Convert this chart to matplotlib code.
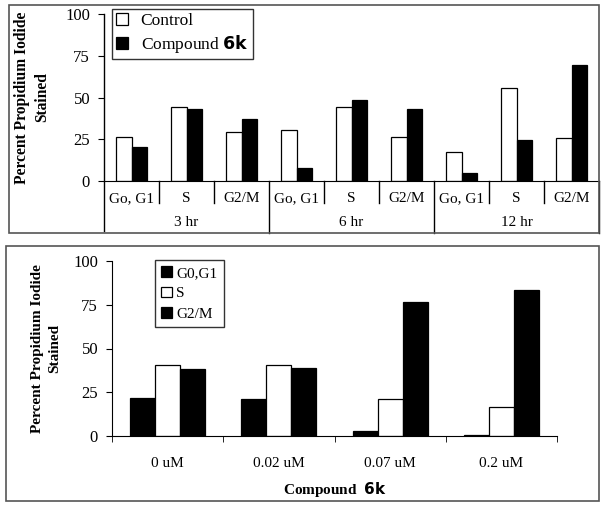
import numpy as np
import matplotlib
matplotlib.use("Agg")
from matplotlib import pyplot as plt
from matplotlib.patches import Rectangle
from matplotlib.lines import Line2D

plt.rcParams['font.family'] = ['Liberation Serif', 'DejaVu Serif']
plt.rcParams['mathtext.fontset'] = 'dejavusans'

# top panel: cell cycle phases over time
phases = ["Go, G1", "S", "G2/M"]
hours = ["3 hr", "6 hr", "12 hr"]
control = [26.5, 44.5, 29.3, 30.5, 44.1, 26.5, 17.4, 55.9, 26.0]
compound = [20.2, 42.9, 37.3, 8.0, 48.5, 42.9, 4.6, 24.7, 69.5]

# bottom panel: dose response
doses = ["0 uM", "0.02 uM", "0.07 uM", "0.2 uM"]
g0g1 = [21.7, 21.0, 3.0, 0.8]
s_phase = [40.8, 40.5, 21.0, 16.8]
g2m = [38.4, 38.9, 76.7, 83.2]

W, H = 611, 507
fig = plt.figure(figsize=(W / 100, H / 100), dpi=100)

def fbox(x0, y0, x1, y1):
    # pixel coords (top-left origin) -> figure fraction rect
    return [x0 / W, 1 - y1 / H, (x1 - x0) / W, (y1 - y0) / H]

# panel frames
for (x0, y0, x1, y1) in [(9, 5, 599, 233), (6, 246, 599, 501)]:
    fig.patches.append(Rectangle((x0 / W, 1 - y1 / H), (x1 - x0) / W, (y1 - y0) / H,
                                 transform=fig.transFigure, fill=False,
                                 edgecolor='#555555', linewidth=1.2))

TICK = 12
LAB = 11

# ---------------- top chart ----------------
ax1 = fig.add_axes(fbox(104, 14, 599, 181))
n = len(control)
x = np.arange(n) + 0.5
bw = 0.29
ax1.bar(x - bw / 2, control, bw, color='white', edgecolor='black', linewidth=0.9, label='Control')
ax1.bar(x + bw / 2, compound, bw, color='black', edgecolor='black', linewidth=0.9,
        label=r'Compound $\mathbf{6k}$')
ax1.set_xlim(0, n)
ax1.set_ylim(0, 100)
ax1.set_yticks([0, 25, 50, 75, 100])
ax1.tick_params(axis='y', direction='out', length=4, labelsize=TICK, pad=6)
ax1.set_xticks([])
for sp in ['top', 'right']:
    ax1.spines[sp].set_visible(False)
ax1.spines['left'].set_visible(False)
trans = ax1.get_xaxis_transform()
axh = 167.0
# left axis line, extended under the labels
ax1.add_line(Line2D([0, 0], [1, -50 / axh], transform=trans, color='black', lw=1, clip_on=False))
for b in range(1, n + 1):
    low = -52 / axh if b % 3 == 0 else -22 / axh
    ax1.add_line(Line2D([b, b], [0, low], transform=trans, color='black', lw=1, clip_on=False))
for i in range(n):
    ax1.text(x[i], -18 / axh, phases[i % 3], transform=trans, ha='center', va='center', fontsize=LAB)
for j, h in enumerate(hours):
    ax1.text(3 * j + 1.5, -42 / axh, h, transform=trans, ha='center', va='center', fontsize=LAB)
ax1.text(-0.145, 0.5, "Percent Propidium Iodide\nStained", transform=ax1.transAxes,
         rotation=90, ha='center', va='center', fontsize=11.2, fontweight='bold', linespacing=1.3)
leg1 = ax1.legend(loc='upper left', bbox_to_anchor=(112 / W, 1 - 9 / H), bbox_transform=fig.transFigure,
                  fontsize=12.5, frameon=True, fancybox=False, handlelength=0.7, handleheight=0.7,
                  handletextpad=0.7, borderpad=0.25, labelspacing=0.2, borderaxespad=0)
leg1.get_frame().set_edgecolor('black')
leg1.get_frame().set_linewidth(1)

# ---------------- bottom chart ----------------
ax2 = fig.add_axes(fbox(112, 261, 557, 436))
m = len(doses)
xc = np.arange(m) + 0.5
bw2 = 0.225
ax2.bar(xc - bw2, g0g1, bw2, color='black', edgecolor='black', linewidth=0.9, label='G0,G1')
ax2.bar(xc, s_phase, bw2, color='white', edgecolor='black', linewidth=0.9, label='S')
ax2.bar(xc + bw2, g2m, bw2, color='black', edgecolor='black', linewidth=0.9, label='G2/M')
ax2.set_xlim(0, m)
ax2.set_ylim(0, 100)
ax2.set_yticks([0, 25, 50, 75, 100])
ax2.set_xticks(xc)
ax2.set_xticklabels(doses)
ax2.set_xticks(np.arange(m + 1), minor=True)
ax2.tick_params(axis='x', which='major', length=0, labelsize=LAB, pad=15)
ax2.tick_params(axis='x', which='minor', direction='out', length=4)
ax2.tick_params(axis='y', direction='out', length=4, labelsize=TICK, pad=6)
for sp in ['top', 'right']:
    ax2.spines[sp].set_visible(False)
ax2.set_xlabel(r'Compound  $\mathbf{6k}$', fontsize=LAB, fontweight='bold', labelpad=7)
ax2.text(-0.148, 0.5, "Percent Propidium Iodide\nStained", transform=ax2.transAxes,
         rotation=90, ha='center', va='center', fontsize=11, fontweight='bold', linespacing=1.45)
leg2 = ax2.legend(loc='upper left', bbox_to_anchor=(155 / W, 1 - 260 / H), bbox_transform=fig.transFigure,
                  fontsize=11, frameon=True, fancybox=False, handlelength=0.7, handleheight=0.7,
                  handletextpad=0.3, borderpad=0.4, labelspacing=0.45, borderaxespad=0)
leg2.get_frame().set_edgecolor('black')
leg2.get_frame().set_linewidth(1)

fig.savefig("out.png", dpi=100)
